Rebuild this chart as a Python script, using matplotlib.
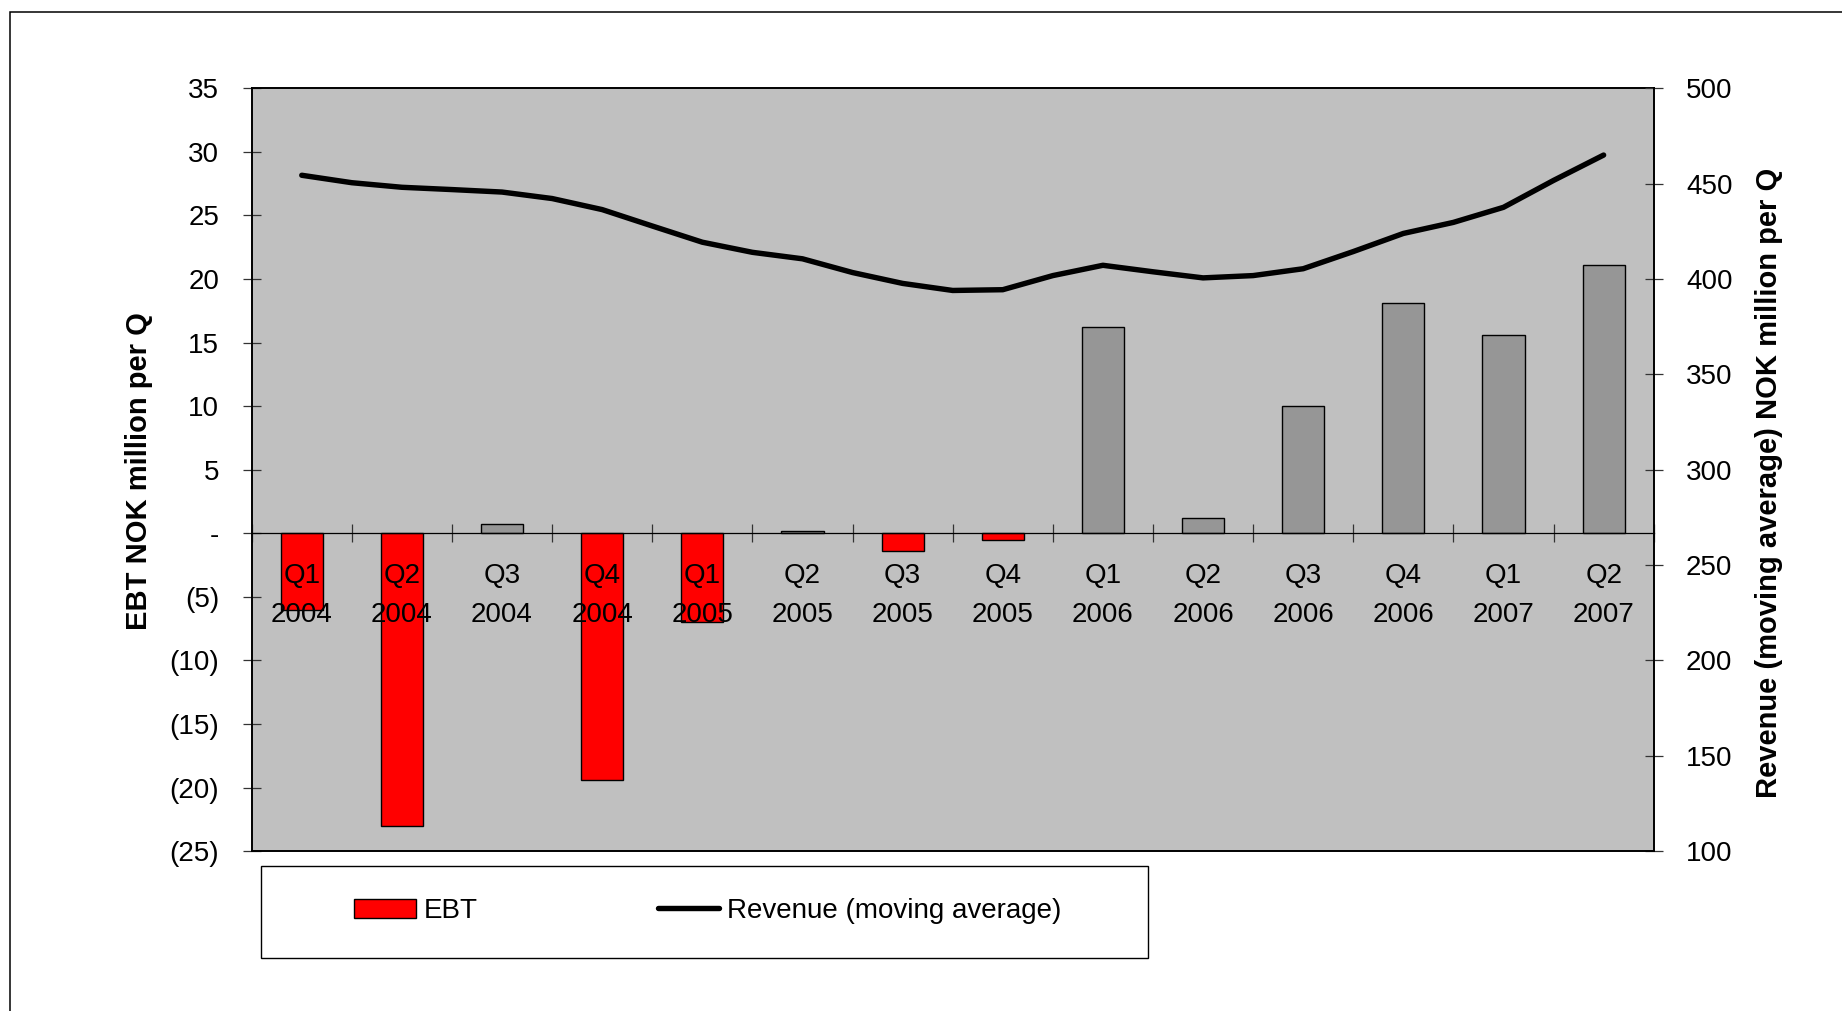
import numpy as np
import matplotlib
matplotlib.use("Agg")
import matplotlib.pyplot as plt
from matplotlib.patches import Patch, Rectangle
from matplotlib.lines import Line2D

plt.rcParams['font.family'] = ['Liberation Sans', 'DejaVu Sans']

# ---------------- data ----------------
quarters = ["Q1\n2004", "Q2\n2004", "Q3\n2004", "Q4\n2004",
            "Q1\n2005", "Q2\n2005", "Q3\n2005", "Q4\n2005",
            "Q1\n2006", "Q2\n2006", "Q3\n2006", "Q4\n2006",
            "Q1\n2007", "Q2\n2007"]
ebt = [-6.0, -23.0, 0.7, -19.4, -7.0, 0.15, -1.4, -0.5,
       16.2, 1.2, 10.0, 18.1, 15.6, 21.1]
# revenue moving average, sampled every half quarter from Q1 2004 to Q2 2007
revenue = [454.4, 450.5, 448.1, 446.9, 445.6, 442.2, 436.4, 427.8, 419.3,
           414.0, 410.6, 403.4, 397.7, 394.0, 394.4, 401.8, 407.2, 403.8,
           400.6, 401.8, 405.4, 414.4, 423.9, 429.7, 437.6, 451.7, 465.0]
ebt_ticks = [-25, -20, -15, -10, -5, 0, 5, 10, 15, 20, 25, 30, 35]
ebt_tick_labels = ["(25)", "(20)", "(15)", "(10)", "(5)", "-", "5", "10",
                   "15", "20", "25", "30", "35"]
rev_ticks = [100, 150, 200, 250, 300, 350, 400, 450, 500]

# ---------------- figure ----------------
W, H = 1842, 1011
fig = plt.figure(figsize=(W / 100, H / 100), dpi=100)
fig.patch.set_facecolor("white")

x0, x1 = 251.7 / W, 1653.7 / W
y0, y1 = 1 - 851.2 / H, 1 - 88.3 / H
ax = fig.add_axes([x0, y0, x1 - x0, y1 - y0])
ax.set_facecolor("#C0C0C0")

xpos = np.arange(len(quarters))
colors = ["#FF0000" if v < 0 else "#969696" for v in ebt]
ax.bar(xpos, ebt, width=0.42, color=colors, edgecolor="black", linewidth=1.0,
       zorder=1)
ax.set_xlim(-0.5, len(quarters) - 0.5)
ax.set_ylim(-25, 35)
ax.set_yticks(ebt_ticks)
ax.set_yticklabels(ebt_tick_labels)

ax.spines['bottom'].set_position(('data', 0))
ax.spines['bottom'].set_linewidth(0.9)
ax.spines['right'].set_visible(False)
for s in ['left', 'top']:
    ax.spines[s].set_linewidth(1.4)

ax.set_xticks(np.arange(-0.5, len(quarters), 1.0))
ax.set_xticklabels([])
ax.set_xticks(xpos, minor=True)
ax.set_xticklabels(quarters, minor=True, fontsize=20, linespacing=1.62)
ax.tick_params(axis='x', which='major', direction='inout', length=13,
               width=0.9, color="#333333")
ax.tick_params(axis='x', which='minor', length=0, pad=21.5)
ax.tick_params(axis='y', direction='inout', length=13, width=0.9,
               color="#333333", pad=16.8, labelsize=20)

ax2 = ax.twinx()
rx = np.linspace(0, len(quarters) - 1, len(revenue))
ax2.plot(rx, revenue, color="black", lw=3.9, solid_capstyle='round',
         solid_joinstyle='round')
ax2.set_ylim(100, 500)
ax2.set_yticks(rev_ticks)
ax2.tick_params(axis='y', direction='inout', length=13, width=0.9,
                color="#333333", pad=16.8, labelsize=20)
ax2.spines['left'].set_visible(False)
ax2.spines['top'].set_visible(False)
for s in ['right', 'bottom']:
    ax2.spines[s].set_linewidth(1.4)

fig.text(138.8 / W, 1 - 470.9 / H, "EBT NOK million per Q", rotation=90,
         ha='center', va='center', fontsize=21, fontweight='bold')
fig.text(1768.8 / W, 1 - 482.8 / H, "Revenue (moving average) NOK million per Q",
         rotation=90, ha='center', va='center', fontsize=21, fontweight='bold')

# legend frame
fig.patches.append(Rectangle((260.5 / W, 1 - 957.7 / H), (1148 - 260.5) / W,
                             (957.7 - 866) / H, transform=fig.transFigure,
                             facecolor="white", edgecolor="black", lw=1.0,
                             zorder=0))
handles = [Patch(facecolor="#FF0000", edgecolor="black", lw=1.0),
           Line2D([], [], color="black", lw=3.9, solid_capstyle='round')]
fig.legend(handles, ["EBT", "Revenue (moving average)"], loc='center left',
           bbox_to_anchor=(354.4 / W, 1 - 911 / H), ncol=2, frameon=False,
           fontsize=20, handlelength=2.2, handleheight=0.68,
           handletextpad=0.29, columnspacing=6.5, borderpad=0,
           borderaxespad=0)

# outer border
fig.patches.append(Rectangle((9.6 / W, -0.05), 1.1, 1.05 - 12.3 / H,
                             transform=fig.transFigure, fill=False,
                             edgecolor="black", lw=1.1, zorder=0))

fig.savefig("out.png", dpi=100)
